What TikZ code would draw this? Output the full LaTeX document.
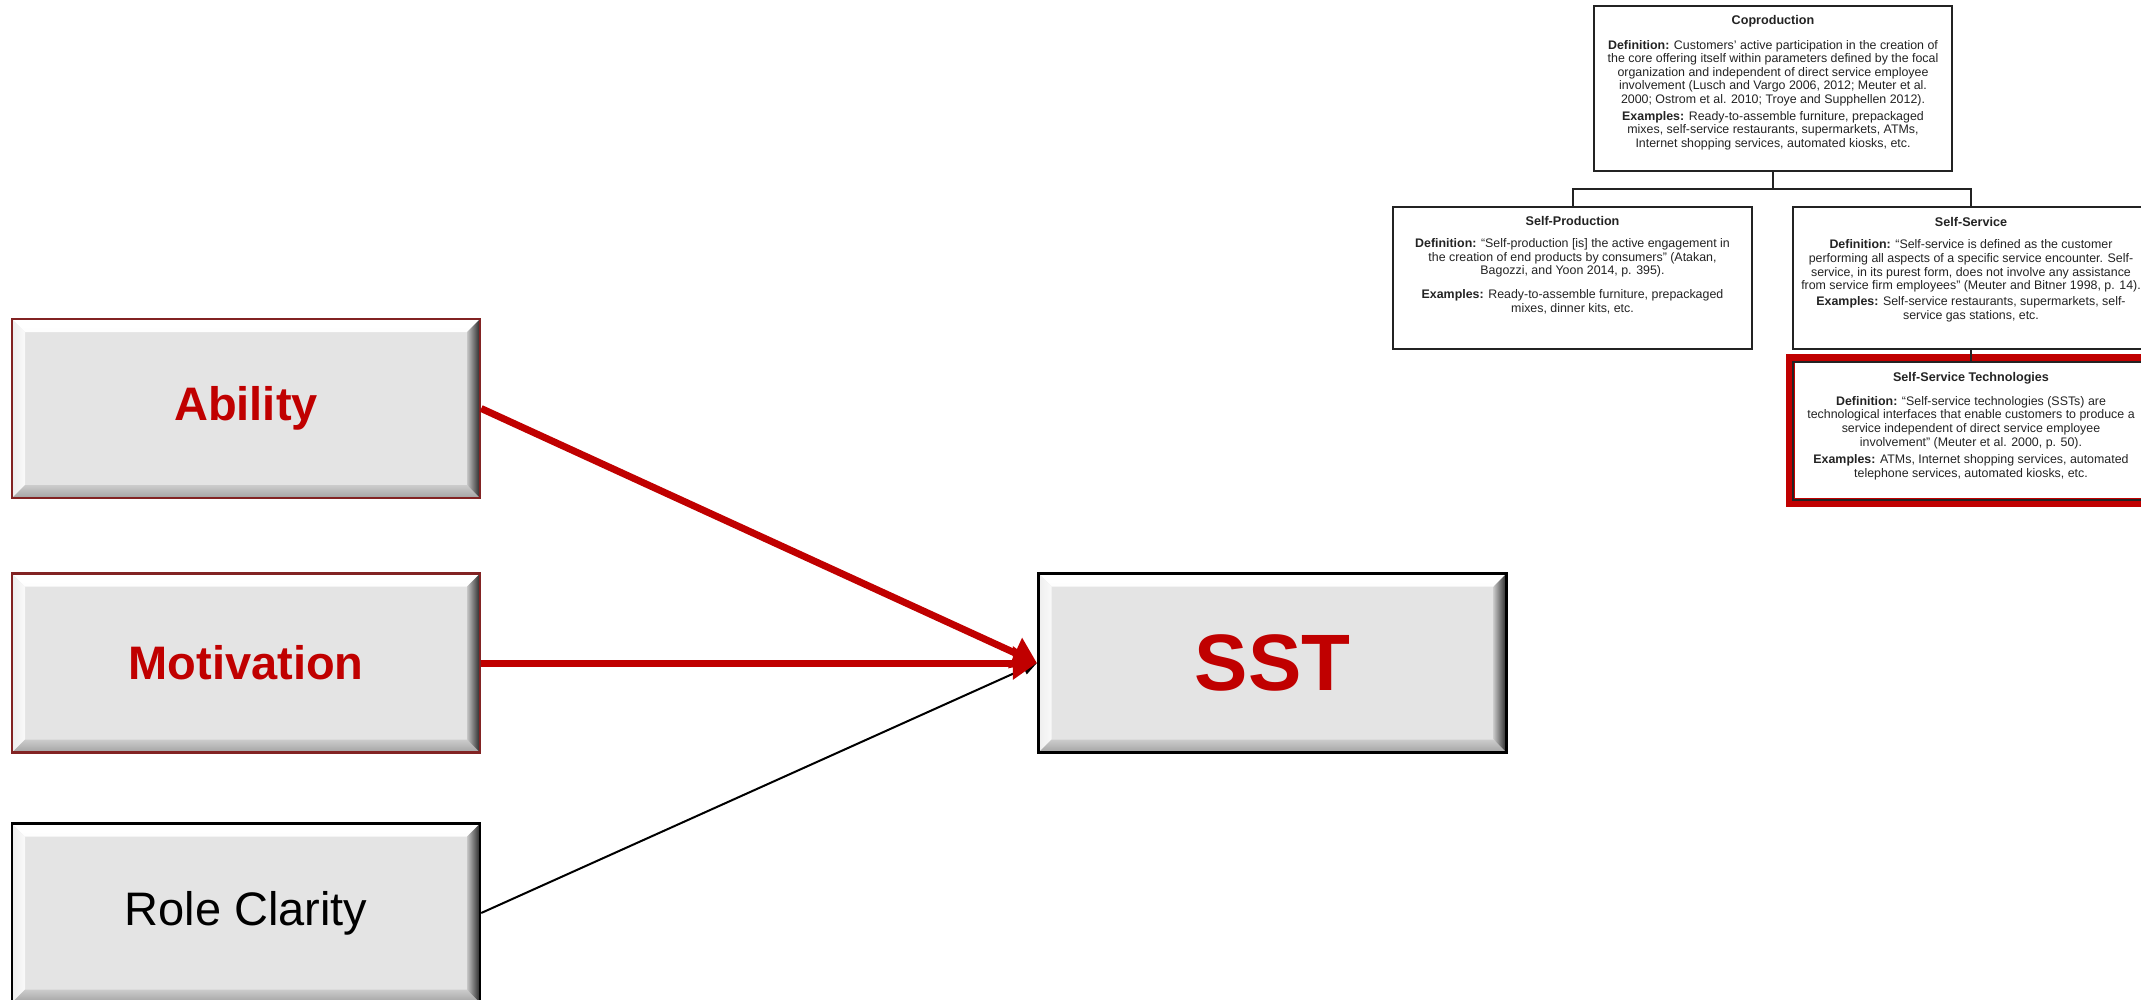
\documentclass[tikz,border=0pt]{standalone}
\usepackage{fontspec}
\setmainfont{Liberation Sans}
\usetikzlibrary{arrows.meta}

\definecolor{sstred}{RGB}{192,0,0}
\definecolor{facegray}{RGB}{228,228,228}
\definecolor{rimred}{RGB}{130,35,35}
\definecolor{inkgray}{RGB}{35,35,35}

\tikzset{
  % raised "button" box with a bevelled rim
  bevel/.style={rectangle, inner sep=0pt, minimum width=234pt, minimum height=89.5pt,
    fill=facegray, line width=1.2pt,
    path picture={
      \shade[top color=white, bottom color=gray!8]
        (path picture bounding box.north west) -- (path picture bounding box.north east)
        -- ([xshift=-6.5pt,yshift=-6.5pt]path picture bounding box.north east)
        -- ([xshift=6.5pt,yshift=-6.5pt]path picture bounding box.north west) -- cycle;
      \shade[left color=gray!14, right color=gray!4]
        (path picture bounding box.north west) -- (path picture bounding box.south west)
        -- ([xshift=6.5pt,yshift=6.5pt]path picture bounding box.south west)
        -- ([xshift=6.5pt,yshift=-6.5pt]path picture bounding box.north west) -- cycle;
      \shade[top color=gray!40, bottom color=gray!72]
        (path picture bounding box.south west) -- (path picture bounding box.south east)
        -- ([xshift=-6.5pt,yshift=6.5pt]path picture bounding box.south east)
        -- ([xshift=6.5pt,yshift=6.5pt]path picture bounding box.south west) -- cycle;
      \shade[left color=gray!45, right color=black!85]
        (path picture bounding box.north east) -- (path picture bounding box.south east)
        -- ([xshift=-6.5pt,yshift=6.5pt]path picture bounding box.south east)
        -- ([xshift=-6.5pt,yshift=-6.5pt]path picture bounding box.north east) -- cycle;
    }},
  keybox/.style={bevel, draw=rimred, text=sstred, font=\fontsize{23.5pt}{28pt}\selectfont\bfseries},
  plainbox/.style={bevel, draw=black, text=black, font=\fontsize{23.5pt}{28pt}\selectfont},
  hubbox/.style={bevel, draw=black, line width=1.6pt, text=sstred, font=\fontsize{40pt}{46pt}\selectfont\bfseries},
  strong/.style={draw=sstred, line width=3.5pt, -{Triangle[length=12pt,width=16pt]}},
  weak/.style={draw=black, line width=1pt, -{Triangle[length=7pt,width=6pt]}},
  % typology boxes
  defbox/.style={draw=inkgray, line width=1pt, rectangle, inner sep=0pt, fill=white},
  deftitle/.style={font=\fontsize{6.3pt}{7.5pt}\selectfont\bfseries, text=inkgray, inner sep=0pt},
  defbody/.style={font=\fontsize{6.2pt}{6.8pt}\selectfont, text=inkgray, align=center, inner sep=0pt},
  tree/.style={draw=inkgray, line width=1pt},
}

\begin{document}
\begin{tikzpicture}[x=0.5pt,y=-0.5pt]
\useasboundingbox (0,0) rectangle (2141,1000);
\clip (0,0) rectangle (2141,1000);

% ---------- antecedents and outcome ----------
\node[keybox]   (ability)    at (246,408.5) {Ability};
\node[keybox]   (motivation) at (246,663)   {Motivation};
\node[plainbox] (clarity)    at (246,913)   {Role Clarity};
\node[hubbox]   (sst)        at (1272.5,663) {SST};

\draw[weak]   (clarity.east)    -- (sst.west);
\draw[strong] (ability.east)    -- (sst.west);
\draw[strong] (motivation.east) -- (sst.west);

% ---------- typology of customer participation ----------
\node[defbox, minimum width=179pt, minimum height=82.5pt] (copro)    at (1773,88.5) {};
\node[defbox, minimum width=179.5pt, minimum height=71pt] (selfprod) at (1572.5,278) {};
\node[defbox, minimum width=178pt, minimum height=71pt]   (selfserv) at (1971,278) {};

\draw[sstred, line width=4.5pt] (1790,358) rectangle (2170,502);
\node[draw=inkgray, line width=1pt, rectangle, inner sep=0pt,
      minimum width=178pt, minimum height=69pt] (sstdef) at (1971,431) {};

\coordinate (split) at (1773,189);
\draw[tree] (copro.south) -- (split);
\draw[tree] (split) -| (selfprod.north);
\draw[tree] (split) -| (selfserv.north);
\draw[tree] (selfserv.south) -- (sstdef.north);

% Coproduction
\node[deftitle] (coprot) at (1773,21) {Coproduction};
\node[defbody]  (coprod) at (1773,73) {\textbf{Definition:} Customers' active participation in the creation of\\
the core offering itself within parameters defined by the focal\\
organization and independent of direct service employee\\
involvement (Lusch and Vargo 2006, 2012; Meuter et al.\\
2000; Ostrom et al. 2010; Troye and Supphellen 2012).};
\node[defbody]  (coproe) at (1773,130.5) {\textbf{Examples:} Ready-to-assemble furniture, prepackaged\\
mixes, self-service restaurants, supermarkets, ATMs,\\
Internet shopping services, automated kiosks, etc.};

% Self-Production
\node[deftitle] (prodt) at (1572.5,221) {Self-Production};
\node[defbody]  (prodd) at (1572.5,258) {\textbf{Definition:} “Self-production [is] the active engagement in\\
the creation of end products by consumers” (Atakan,\\
Bagozzi, and Yoon 2014, p. 395).};
\node[defbody]  (prode) at (1572.5,302) {\textbf{Examples:} Ready-to-assemble furniture, prepackaged\\
mixes, dinner kits, etc.};

% Self-Service
\node[deftitle] (servt) at (1971,222) {Self-Service};
\node[defbody]  (servd) at (1971,266) {\textbf{Definition:} “Self-service is defined as the customer\\
performing all aspects of a specific service encounter. Self-\\
service, in its purest form, does not involve any assistance\\
from service firm employees” (Meuter and Bitner 1998, p. 14).};
\node[defbody]  (serve) at (1971,309) {\textbf{Examples:} Self-service restaurants, supermarkets, self-\\
service gas stations, etc.};

% Self-Service Technologies
\node[deftitle] (techt) at (1971,378) {Self-Service Technologies};
\node[defbody]  (techd) at (1971,422.5) {\textbf{Definition:} “Self-service technologies (SSTs) are\\
technological interfaces that enable customers to produce a\\
service independent of direct service employee\\
involvement” (Meuter et al. 2000, p. 50).};
\node[defbody]  (teche) at (1971,467) {\textbf{Examples:} ATMs, Internet shopping services, automated\\
telephone services, automated kiosks, etc.};
\end{tikzpicture}
\end{document}
